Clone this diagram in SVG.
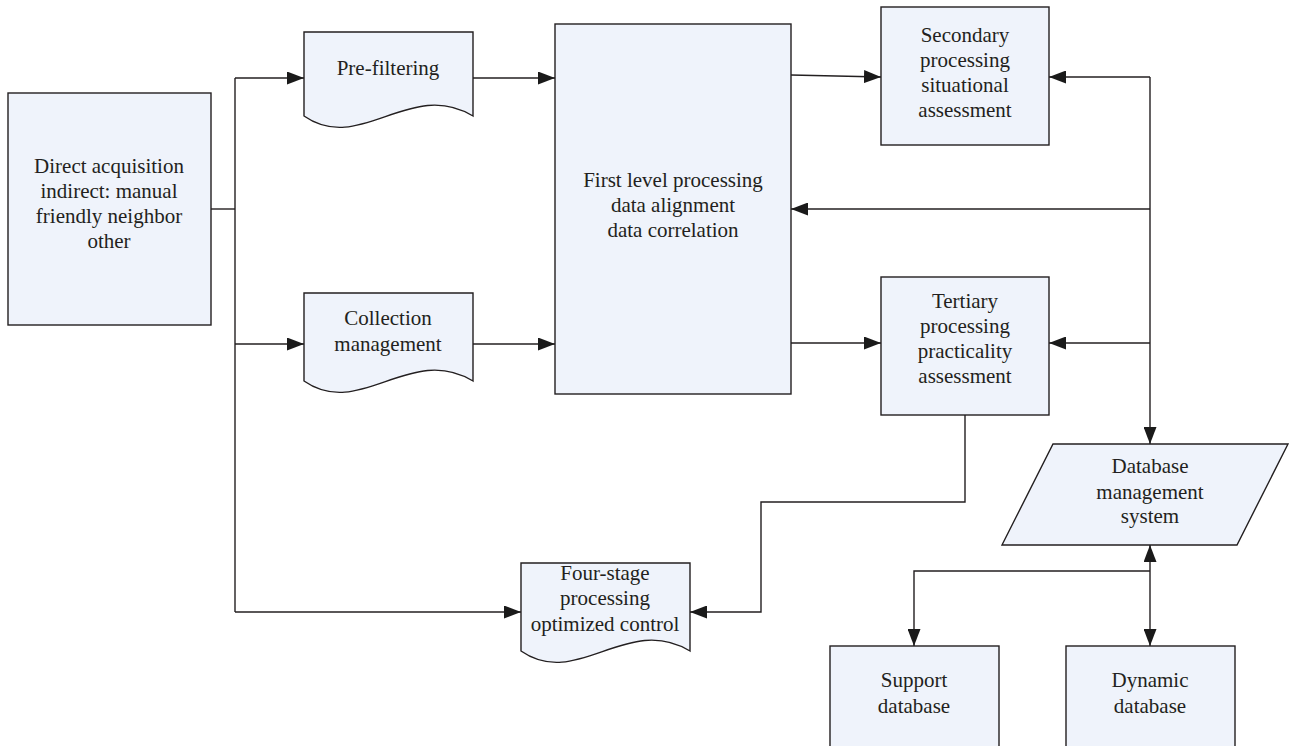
<svg xmlns="http://www.w3.org/2000/svg" width="1289" height="746" viewBox="0 0 1289 746">
<style>
.n{fill:#eff3fb;stroke:#231f20;stroke-width:1.4}
.c{fill:none;stroke:#231f20;stroke-width:1.4}
text{font-family:"Liberation Serif",serif;font-size:21px;fill:#231f20;text-anchor:middle}
</style>
<defs>
<marker id="ah" markerUnits="userSpaceOnUse" markerWidth="17" markerHeight="13" refX="17" refY="6.5" orient="auto">
<path d="M0,0 L17,6.5 L0,13 z" fill="#1a1a1a"/>
</marker>
</defs>
<rect width="1289" height="746" fill="#ffffff"/>
<g id="connectors">
<path class="c" d="M211,209 H235"/>
<path class="c" d="M235,78 V612"/>
<path class="c" d="M235,78 H304" marker-end="url(#ah)"/>
<path class="c" d="M235,344 H304" marker-end="url(#ah)"/>
<path class="c" d="M235,612 H521" marker-end="url(#ah)"/>
<path class="c" d="M473,78 H555" marker-end="url(#ah)"/>
<path class="c" d="M473,344 H555" marker-end="url(#ah)"/>
<path class="c" d="M791,75 L881,77" marker-end="url(#ah)"/>
<path class="c" d="M791,343 H881" marker-end="url(#ah)"/>
<path class="c" d="M1150,77 H1049" marker-end="url(#ah)"/>
<path class="c" d="M1150,209 H791" marker-end="url(#ah)"/>
<path class="c" d="M1150,343 H1049" marker-end="url(#ah)"/>
<path class="c" d="M1150,77 V444" marker-end="url(#ah)"/>
<path class="c" d="M965,415 V502 H761 V612 H690" marker-end="url(#ah)"/>
<path class="c" d="M1150,571 V545" marker-end="url(#ah)"/>
<path class="c" d="M1150,571 V646" marker-end="url(#ah)"/>
<path class="c" d="M1150,571 H914 V646" marker-end="url(#ah)"/>
</g>
<g id="direct">
<rect class="n" x="8" y="93" width="203" height="232"/>
<text x="109" y="173">Direct acquisition</text>
<text x="109" y="198">indirect: manual</text>
<text x="109" y="223">friendly neighbor</text>
<text x="109" y="248">other</text>
</g>
<g id="prefilter">
<path class="n" d="M304,32 H473 V116 C410,78 360,155 304,116 Z"/>
<text x="388" y="75">Pre-filtering</text>
</g>
<g id="collection">
<path class="n" d="M304,293 H473 V381 C410,343 360,420 304,381 Z"/>
<text x="388" y="325">Collection</text>
<text x="388" y="351">management</text>
</g>
<g id="first">
<rect class="n" x="555" y="24" width="236" height="370"/>
<text x="673" y="187">First level processing</text>
<text x="673" y="212">data alignment</text>
<text x="673" y="237">data correlation</text>
</g>
<g id="secondary">
<rect class="n" x="881" y="7" width="168" height="138"/>
<text x="965" y="42">Secondary</text>
<text x="965" y="67">processing</text>
<text x="965" y="92">situational</text>
<text x="965" y="117">assessment</text>
</g>
<g id="tertiary">
<rect class="n" x="881" y="277" width="168" height="138"/>
<text x="965" y="308">Tertiary</text>
<text x="965" y="333">processing</text>
<text x="965" y="358">practicality</text>
<text x="965" y="383">assessment</text>
</g>
<g id="fourstage">
<path class="n" d="M521,563 H690 V651 C627,613 577,690 521,651 Z"/>
<text x="605" y="580">Four-stage</text>
<text x="605" y="605">processing</text>
<text x="605" y="631">optimized control</text>
</g>
<g id="dbms">
<path class="n" d="M1053,444 H1288 L1237,545 H1002 Z"/>
<text x="1150" y="473">Database</text>
<text x="1150" y="499">management</text>
<text x="1150" y="523">system</text>
</g>
<g id="support">
<rect class="n" x="830" y="646" width="169" height="110"/>
<text x="914" y="687">Support</text>
<text x="914" y="713">database</text>
</g>
<g id="dynamic">
<rect class="n" x="1066" y="646" width="169" height="110"/>
<text x="1150" y="687">Dynamic</text>
<text x="1150" y="713">database</text>
</g>
</svg>
